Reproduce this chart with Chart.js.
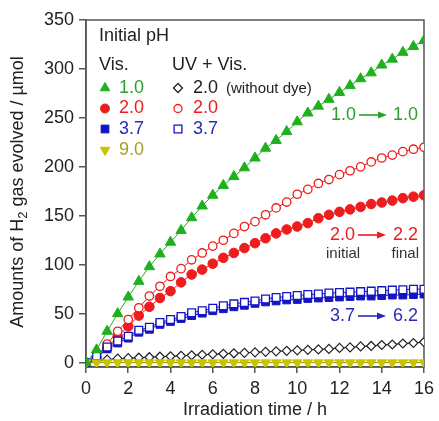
<!DOCTYPE html>
<html>
<head>
<meta charset="utf-8">
<script src="https://cdn.jsdelivr.net/npm/chart.js@4.4.1/dist/chart.umd.min.js"></script>
<style>
  html, body { margin: 0; padding: 0; background: #fff; }
  #wrap { position: relative; width: 439px; height: 421px; }
</style>
</head>
<body>
<div id="wrap"><canvas id="c" width="439" height="421"></canvas></div>
<script>
// irradiation time, h
const HOURS = [0,0.5,1,1.5,2,2.5,3,3.5,4,4.5,5,5.5,6,6.5,7,7.5,8,8.5,9,9.5,10,10.5,11,11.5,12,12.5,13,13.5,14,14.5,15,15.5,16];

// H2 evolved, umol
const VIS_PH1  = [0,13,32,50,67,83,98,111,123,135,148,160,171,181,190,199,209,219,227,236,246,255,262,269,276,283,290,296,304,310,317,323,329];
const VIS_PH2  = [0,5,15,27,37,48,57,66,73,82,90,95,101,107,112,117,122,127,132,136,139,142.5,147.5,151,154,156.5,159,162,163.5,165.5,168,169.5,171];
const VIS_PH37 = [0,5,14,20,25,31,34,39,42,45,48,50.5,53,55,57,58.5,60.5,62,63,64,64.5,65.5,66,66.5,67,67.5,68,68,68.5,69,69,69.5,70];
const VIS_PH9  = [0,0,0,0,0,0,0,0,0,0,0,0,0,0,0,0,0,0,0,0,0,0,0,0,0,0,0,0,0,0,0,0,0];
const UV_NODYE = [0,2,3,4,4.5,5,5.5,6,6.5,7,7.5,8,8.5,9,9.5,10,10.5,11,11.5,12,12.5,13,13.5,14,15,15.5,16.5,17,18,18.5,19.5,20,21];
const UV_PH2   = [0,6,19,32,44,56,68,78,88,96,105,112,119,125,132,139,144,151,158,164,172,177,183,187,192,196,200,205,209,212,215.5,218,220];
const UV_PH37  = [0,7,16,22,27,33,36,41,44,47,51,53,55.5,58,60,61.5,63,65,66.5,67.5,68.5,69.5,70,71,71.5,72,72.5,73,73.5,74,74.5,75,75];

const X_TICKS = [0,2,4,6,8,10,12,14,16];
const Y_TICKS = [0,50,100,150,200,250,300,350];

const GREEN  = '#1fb01f';
const RED    = '#ee1c1c';
const BLUE   = '#1414c4';
const YELLOW = '#c8c400';
const BLACK  = '#222';
const FRAME  = '#555';
const FONT   = '"Liberation Sans", Arial, sans-serif';

const pts = arr => HOURS.map((h, i) => ({ x: h, y: arr[i] }));

function series(arr, o) {
  return {
    data: pts(arr),
    showLine: true,
    borderColor: o.line,
    borderWidth: 1,
    pointStyle: o.style,
    pointRadius: o.r,
    pointRotation: o.rot || 0,
    pointBackgroundColor: o.fill,
    pointBorderColor: o.stroke,
    pointBorderWidth: o.bw || 1,
    order: o.order,
  };
}

function marker(ctx, style, r, rot, fill, stroke, bw, x, y) {
  ctx.fillStyle = fill; ctx.strokeStyle = stroke; ctx.lineWidth = bw;
  Chart.helpers.drawPoint(ctx, { pointStyle: style, radius: r, rotation: rot, borderWidth: bw }, x, y);
}

function arrow(ctx, x1, x2, y, color) {
  ctx.strokeStyle = color; ctx.fillStyle = color; ctx.lineWidth = 1.6;
  ctx.beginPath(); ctx.moveTo(x1, y); ctx.lineTo(x2 - 7, y); ctx.stroke();
  ctx.beginPath(); ctx.moveTo(x2, y); ctx.lineTo(x2 - 9, y - 3.5); ctx.lineTo(x2 - 9, y + 3.5); ctx.closePath(); ctx.fill();
}

function text(ctx, s, x, y, color, size, align) {
  ctx.font = size + 'px ' + FONT;
  ctx.fillStyle = color;
  ctx.textAlign = align || 'left';
  ctx.textBaseline = 'middle';
  ctx.fillText(s, x, y);
}

const overlay = {
  id: 'overlay',
  beforeDatasetsDraw(chart) {
    const { ctx, chartArea: a } = chart;
    ctx.save();
    ctx.strokeStyle = FRAME; ctx.lineWidth = 1.5;
    ctx.strokeRect(a.left, a.top, a.right - a.left, a.bottom - a.top);
    ctx.restore();
  },
  afterDraw(chart) {
    const ctx = chart.ctx;
    ctx.save();

    // y axis title with subscript
    ctx.translate(18, 192);
    ctx.rotate(-Math.PI / 2);
    const big = '18px ' + FONT, small = '13px ' + FONT;
    const parts = [['Amounts of H', big, 0], ['2', small, 5], [' gas evolved / µmol', big, 0]];
    let total = 0;
    parts.forEach(p => { ctx.font = p[1]; total += ctx.measureText(p[0]).width; });
    let x = -total / 2;
    ctx.fillStyle = BLACK; ctx.textBaseline = 'middle'; ctx.textAlign = 'left';
    parts.forEach(p => { ctx.font = p[1]; ctx.fillText(p[0], x, p[2]); x += ctx.measureText(p[0]).width; });
    ctx.setTransform(1, 0, 0, 1, 0, 0);

    // legend
    text(ctx, 'Initial pH', 99, 36, BLACK, 18);
    text(ctx, 'Vis.', 99, 65, BLACK, 18);
    text(ctx, 'UV + Vis.', 172, 65, BLACK, 18);

    marker(ctx, 'triangle', 5.5, 0, GREEN, GREEN, 1, 105, 88);
    text(ctx, '1.0', 119, 88, '#2a9f2a', 18);
    marker(ctx, 'circle', 4.5, 0, RED, RED, 1, 105, 108.5);
    text(ctx, '2.0', 119, 108.5, RED, 18);
    marker(ctx, 'rect', 5.5, 0, BLUE, BLUE, 1, 105, 129);
    text(ctx, '3.7', 119, 129, '#2a2ab4', 18);
    marker(ctx, 'triangle', 5.5, 180, YELLOW, YELLOW, 1, 105, 150);
    text(ctx, '9.0', 119, 150, '#a49e22', 18);

    marker(ctx, 'rectRot', 4.5, 0, '#fff', BLACK, 1.3, 178, 88);
    text(ctx, '2.0', 193, 88, BLACK, 18);
    text(ctx, '(without dye)', 226, 89, BLACK, 15);
    marker(ctx, 'circle', 4, 0, '#fff', RED, 1.3, 178, 108.5);
    text(ctx, '2.0', 193, 108.5, RED, 18);
    marker(ctx, 'rect', 5.5, 0, '#fff', BLUE, 1.3, 178, 129);
    text(ctx, '3.7', 193, 129, '#2a2ab4', 18);

    // pH change notes
    text(ctx, '1.0', 331, 115, '#2a9f2a', 18);
    arrow(ctx, 359, 387, 115, '#2a9f2a');
    text(ctx, '1.0', 418, 115, '#2a9f2a', 18, 'right');

    text(ctx, '2.0', 330, 235, RED, 18);
    arrow(ctx, 358, 386, 235, RED);
    text(ctx, '2.2', 418, 235, RED, 18, 'right');
    text(ctx, 'initial', 326, 254, '#333', 15);
    text(ctx, 'final', 419, 254, '#333', 15, 'right');

    text(ctx, '3.7', 330, 316, '#2a2ab4', 18);
    arrow(ctx, 358, 386, 316, '#2a2ab4');
    text(ctx, '6.2', 418, 316, '#2a2ab4', 18, 'right');

    ctx.restore();
  }
};

new Chart(document.getElementById('c'), {
  type: 'line',
  data: {
    datasets: [
      series(UV_NODYE, { line: BLACK, style: 'rectRot', r: 4.5, fill: '#fff', stroke: BLACK, bw: 1.2, order: 7 }),
      series(VIS_PH2,  { line: RED, style: 'circle', r: 4.8, fill: RED, stroke: RED, order: 6 }),
      series(UV_PH2,   { line: RED, style: 'circle', r: 4.2, fill: '#fff', stroke: RED, bw: 1.3, order: 5 }),
      series(VIS_PH37, { line: BLUE, style: 'rect', r: 5.5, fill: BLUE, stroke: BLUE, order: 4 }),
      series(UV_PH37,  { line: BLUE, style: 'rect', r: 5.5, fill: '#fff', stroke: BLUE, bw: 1.3, order: 3 }),
      series(VIS_PH9,  { line: '#9a9600', style: 'triangle', r: 5.5, rot: 180, fill: YELLOW, stroke: YELLOW, order: 2 }),
      series(VIS_PH1,  { line: GREEN, style: 'triangle', r: 6, fill: GREEN, stroke: GREEN, order: 1 }),
    ],
  },
  options: {
    responsive: false, animation: false, devicePixelRatio: 1,
    layout: { padding: { left: 0, top: 20, right: 12, bottom: 0 } },
    plugins: { legend: { display: false }, tooltip: { enabled: false } },
    elements: { line: { tension: 0 } },
    scales: {
      x: {
        type: 'linear', min: 0, max: 16,
        afterFit: s => { s.height = 54; },
        afterBuildTicks: s => { s.ticks = X_TICKS.map(v => ({ value: v })); },
        grid: { drawOnChartArea: false, tickLength: 6, color: FRAME, lineWidth: 1.5 },
        border: { color: FRAME, width: 1.5 },
        ticks: { color: BLACK, padding: 5, font: { family: FONT, size: 18 }, maxRotation: 0 },
        title: { display: true, text: 'Irradiation time / h', color: BLACK, font: { family: FONT, size: 18 }, padding: { top: 0, bottom: 0 } },
      },
      y: {
        min: -4.5, max: 350,
        afterFit: s => { s.width = 86; },
        afterBuildTicks: s => { s.ticks = Y_TICKS.map(v => ({ value: v })); },
        grid: { drawOnChartArea: false, tickLength: 7, color: FRAME, lineWidth: 1.5 },
        border: { color: FRAME, width: 1.5 },
        ticks: { color: BLACK, padding: 5, font: { family: FONT, size: 18 } },
      },
    },
  },
  plugins: [overlay],
});
</script>
</body>
</html>
